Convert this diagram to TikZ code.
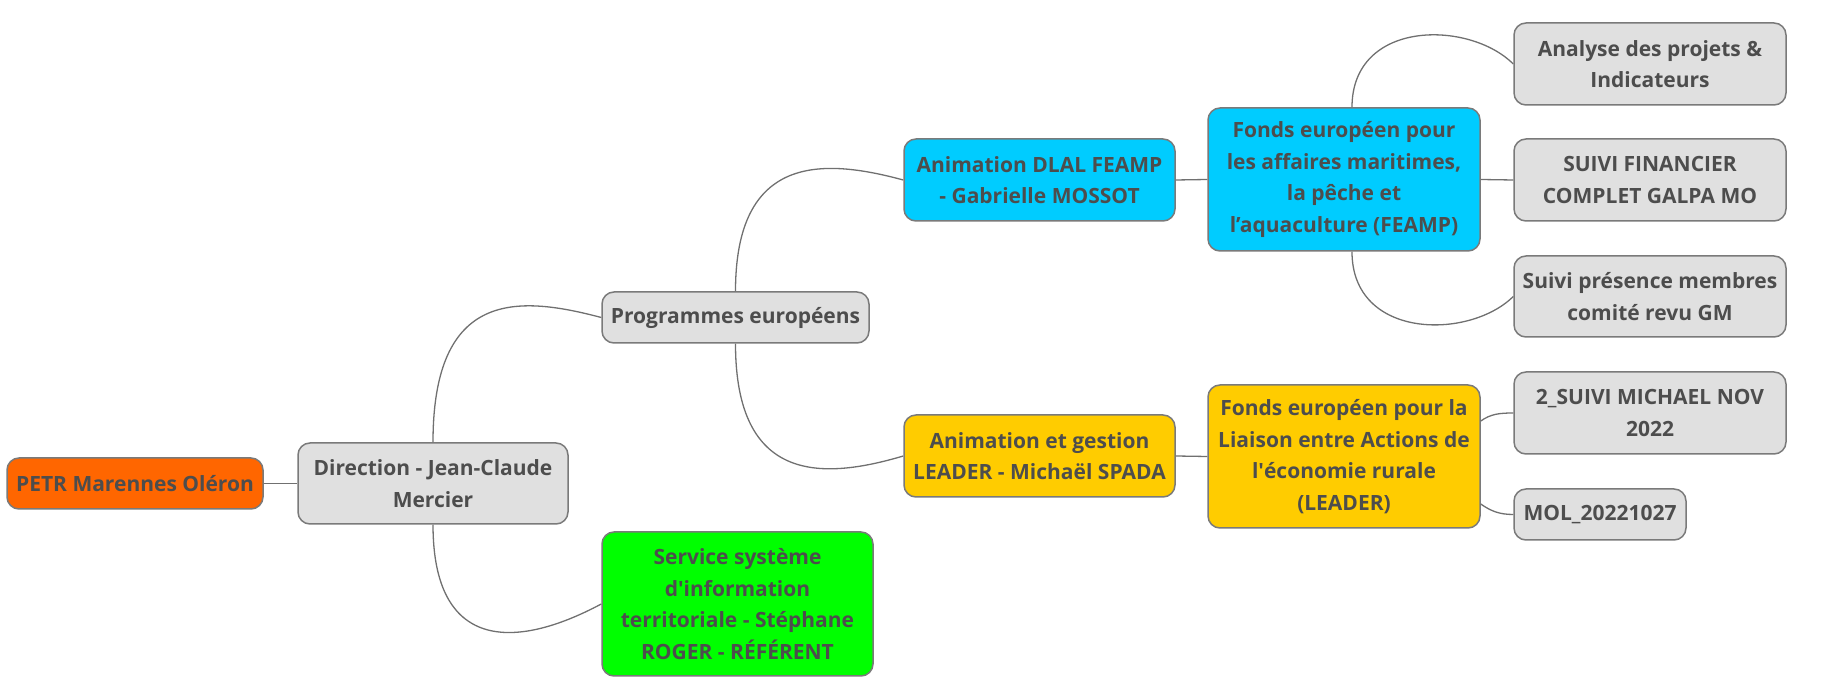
\documentclass[tikz,border=0pt]{standalone}
\usepackage{fontspec}
\setmainfont{Open Sans}
\usetikzlibrary{calc}
\newcommand\sq{\XeTeXglyph\XeTeXcharglyph"0027\relax}
\definecolor{txt}{HTML}{4D4D4D}
\definecolor{bord}{HTML}{7A7A7A}
\definecolor{wire}{HTML}{707070}
\definecolor{gfill}{HTML}{E0E0E0}
\definecolor{ofill}{HTML}{FF6600}
\definecolor{bfill}{HTML}{00CCFF}
\definecolor{yfill}{HTML}{FFCC00}
\definecolor{vfill}{HTML}{00FF00}
\tikzset{
  topic/.style={draw=bord, line width=0.75pt, rounded corners=6pt, inner sep=0pt,
    align=center, text=txt, font=\fontsize{10.5}{15.75}\selectfont\bfseries},
  conn/.style={draw=wire, line width=0.65pt},
}
\begin{document}
\begin{tikzpicture}[x=0.5pt,y=-0.5pt]
\useasboundingbox (0,0) rectangle (1822,694);
\node[topic, fill=ofill, minimum width=128pt, minimum height=25.5pt] (petr) at (135,483.5) {PETR Marennes Oléron};
\node[topic, fill=gfill, minimum width=135pt, minimum height=40.5pt] (dir) at (433,483.5) {Direction - Jean-Claude\\Mercier};
\node[topic, fill=gfill, minimum width=133.5pt, minimum height=25.5pt] (prog) at (735.5,317.5) {Programmes européens};
\node[topic, fill=vfill, minimum width=135.5pt, minimum height=72pt] (serv) at (737.5,604) {Service système\\d\sq information\\territoriale - Stéphane\\ROGER - RÉFÉRENT};
\node[topic, fill=bfill, minimum width=135.5pt, minimum height=41pt] (dlal) at (1039.5,180) {Animation DLAL FEAMP\\- Gabrielle MOSSOT};
\node[topic, fill=yfill, minimum width=135.5pt, minimum height=41pt] (lanim) at (1039.5,456) {Animation et gestion\\LEADER - Michaël SPADA};
\node[topic, fill=bfill, minimum width=136pt, minimum height=71.5pt] (feamp) at (1344,179.5) {Fonds européen pour\\les affaires maritimes,\\la pêche et\\l’aquaculture (FEAMP)};
\node[topic, fill=yfill, minimum width=136pt, minimum height=71.5pt] (lfonds) at (1344,456.5) {Fonds européen pour la\\Liaison entre Actions de\\l\sq économie rurale\\(LEADER)};
\node[topic, fill=gfill, minimum width=136pt, minimum height=41pt] (ana) at (1650,64) {Analyse des projets \&\\Indicateurs};
\node[topic, fill=gfill, minimum width=136pt, minimum height=41pt] (sfin) at (1650,180) {SUIVI FINANCIER\\COMPLET GALPA MO};
\node[topic, fill=gfill, minimum width=136pt, minimum height=40.5pt] (spres) at (1650,296.5) {Suivi présence membres\\comité revu GM};
\node[topic, fill=gfill, minimum width=136pt, minimum height=41pt] (s2) at (1650,413) {2\_SUIVI MICHAEL NOV\\2022};
\node[topic, fill=gfill, minimum width=86pt, minimum height=25.5pt] (mol) at (1600,514.5) {MOL\_20221027};

\draw[conn] (petr.east) -- (dir.west);
\draw[conn] (dir.north) .. controls +(0,-153) and +(-83,-22) .. (prog.west);
\draw[conn] (dir.south) .. controls +(0,125) and +(-88,47) .. (serv.west);
\draw[conn] (prog.north) .. controls +(0,-137) and +(-81,-22) .. (dlal.west);
\draw[conn] (prog.south) .. controls +(0,140) and +(-81,24) .. (lanim.west);
\draw[conn] (dlal.east) -- (feamp.west);
\draw[conn] (lanim.east) -- (lfonds.west);
\draw[conn] ($(feamp.north)+(8,0)$) .. controls +(0,-88) and +(-44,-44) .. (ana.west);
\draw[conn] (feamp.east) -- (sfin.west);
\draw[conn] ($(feamp.south)+(8,0)$) .. controls +(0,88) and +(-44,43.5) .. (spres.west);
\draw[conn] ($(lfonds.east)+(0,-35.5)$) .. controls +(10,-7) and +(-14,0) .. (s2.west);
\draw[conn] ($(lfonds.east)+(0,47.5)$) .. controls +(10,7) and +(-14,0) .. (mol.west);
\end{tikzpicture}
\end{document}
